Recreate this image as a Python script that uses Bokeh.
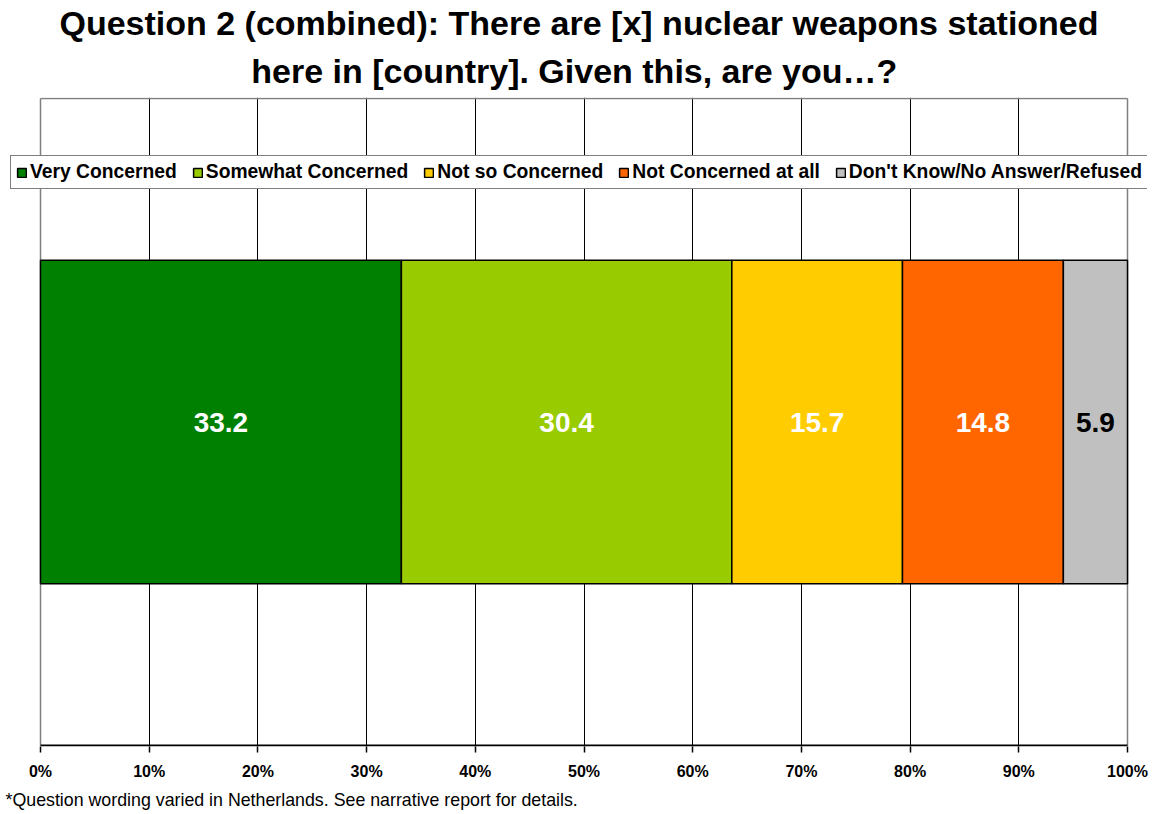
from bokeh.plotting import figure
from bokeh.models import (ColumnDataSource, FixedTicker, CustomJSTickFormatter,
                          Title, Legend, LegendItem, Range1d)
from bokeh.embed import file_html
from bokeh.resources import INLINE
from bokeh.core.properties import value

categories = ["Very Concerned", "Somewhat Concerned", "Not so Concerned",
              "Not Concerned at all", "Don't Know/No Answer/Refused"]
values = [33.2, 30.4, 15.7, 14.8, 5.9]
colors = ["#008000", "#99CC00", "#FFCC00", "#FF6600", "#C0C0C0"]
label_colors = ["white", "white", "white", "white", "black"]
ticks = [0, 10, 20, 30, 40, 50, 60, 70, 80, 90, 100]
title_lines = ["Question 2 (combined): There are [x] nuclear weapons stationed",
               "here in [country].  Given this, are you\u2026?"]
footnote = "*Question wording varied in Netherlands. See narrative report for details."

FONT = "Liberation Sans"

lefts, rights = [], []
acc = 0.0
for v in values:
    lefts.append(acc)
    acc += v
    rights.append(acc)
centers = [(l + r) / 2 for l, r in zip(lefts, rights)]

# the frame is a little wider than the 0-100% area so the legend can overhang it
PX_PER_UNIT = 1087 / 100.0
x_lo = -30 / PX_PER_UNIT
x_hi = 100 + 20 / PX_PER_UNIT
Y_PAD = 1 / 647.0

p = figure(width=1161, height=814,
           x_range=Range1d(x_lo, x_hi), y_range=Range1d(-Y_PAD, 1 + Y_PAD),
           output_backend="svg", toolbar_location=None,
           min_border_left=10, min_border_right=14,
           min_border_top=97, min_border_bottom=68)

# two centred title lines; the extra Title is stacked next to the frame
title_kw = dict(align="center", text_font=FONT, text_font_size="34px",
                text_font_style="bold", text_color="black")
p.title.text = title_lines[0]
for k, v in title_kw.items():
    setattr(p.title, k, v)
p.title.standoff = 2
p.add_layout(Title(text=title_lines[1], standoff=15, **title_kw), "above")

p.outline_line_color = None

# interior vertical gridlines
p.xgrid.ticker = FixedTicker(ticks=ticks[1:-1])
p.xgrid.grid_line_color = "black"
p.xgrid.grid_line_width = 1
p.ygrid.visible = False
p.yaxis.visible = False

p.xaxis.ticker = FixedTicker(ticks=ticks)
p.xaxis.formatter = CustomJSTickFormatter(code="return tick + '%';")
p.xaxis.axis_line_color = None
p.xaxis.major_tick_line_color = "black"
p.xaxis.major_tick_line_width = 1.5
p.xaxis.major_tick_out = 6
p.xaxis.major_tick_in = 0
p.xaxis.minor_tick_line_color = None
p.xaxis.major_label_text_font = FONT
p.xaxis.major_label_text_font_size = "16px"
p.xaxis.major_label_text_font_style = "bold"
p.xaxis.major_label_text_color = "black"
p.xaxis.major_label_standoff = 10

# plot-area border: grey top/left/right, black baseline
p.segment(x0=[0, 0, 100], y0=[0, 1, 0], x1=[0, 100, 100], y1=[1, 1, 1],
          line_color="#808080", line_width=1.5)

items = []
for i, cat in enumerate(categories):
    src = ColumnDataSource(dict(y=[0.5], left=[lefts[i]], right=[rights[i]]))
    r = p.hbar(y="y", left="left", right="right", height=0.5, source=src,
               fill_color=colors[i], line_color="black", line_width=1.5)
    items.append(LegendItem(label=cat, renderers=[r]))

p.segment(x0=[0], y0=[0], x1=[100], y1=[0], line_color="black", line_width=2)

lab_src = ColumnDataSource(dict(x=centers, y=[0.5] * len(values),
                                text=["%.1f" % v for v in values],
                                color=label_colors))
p.text(x="x", y="y", text="text", source=lab_src, text_color="color",
       text_font=value(FONT), text_font_size="28px", text_font_style="bold",
       text_align="center", text_baseline="middle")

legend = Legend(items=items, orientation="horizontal", location=(0, 557),
                glyph_width=11, glyph_height=11, label_standoff=3, spacing=15,
                padding=5, margin=0, label_height=20,
                label_text_font=FONT, label_text_font_size="19.3px",
                label_text_font_style="bold", label_text_color="black",
                border_line_color="black", border_line_width=1,
                background_fill_color="white", background_fill_alpha=1)
p.add_layout(legend, "center")

foot = Title(text=footnote, align="left", offset=-5, text_font=FONT,
             text_font_size="17.8px", text_font_style="normal", text_color="black")
p.add_layout(foot, "below")

open("out.html", "w").write(file_html(p, INLINE))
